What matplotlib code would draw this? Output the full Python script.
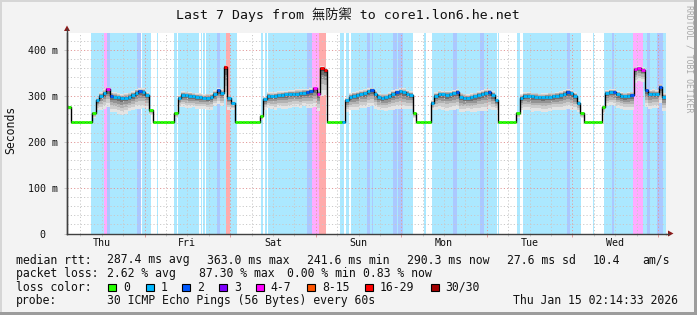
import numpy as np
import matplotlib
matplotlib.use("Agg")
import matplotlib.pyplot as plt
from matplotlib.colors import to_rgb
from matplotlib.patches import Rectangle, Polygon
from matplotlib.transforms import blended_transform_factory

W, H = 697, 315
MONO = "DejaVu Sans Mono"

# ---------------------------------------------------------------- data ---
# hourly samples, Thu Jan 08 02:14 -> Thu Jan 15 02:14 (168 h)
median_ms = [
    276, 242, 242, 242, 242, 242, 242, 262, 290, 300, 306, 314,
    300, 298, 297, 296, 296, 298, 302, 307, 310, 309, 302, 268,
    242, 242, 242, 242, 242, 242, 262, 295, 302, 301, 300, 299,
    298, 297, 296, 296, 298, 304, 312, 306, 363, 296, 285, 242,
    242, 242, 242, 242, 242, 242, 255, 292, 300, 299, 300, 301,
    302, 303, 304, 304, 305, 306, 307, 308, 310, 316, 304, 360,
    356, 242, 242, 242, 242, 244, 290, 298, 300, 302, 304, 306,
    310, 313, 304, 298, 296, 297, 300, 304, 308, 310, 308, 305,
    302, 262, 242, 242, 242, 242, 285, 300, 303, 303, 302, 303,
    306, 309, 298, 296, 296, 297, 299, 302, 305, 307, 309, 302,
    290, 242, 242, 242, 242, 242, 262, 296, 300, 300, 299, 298,
    297, 297, 298, 298, 299, 300, 302, 305, 309, 306, 300, 285,
    262, 242, 242, 242, 242, 242, 275, 306, 309, 309, 303, 300,
    299, 300, 302, 358, 360, 357, 312, 305, 305, 304, 320, 298,
]
# loss class index: 0, 1, 2, 3, 4-7, 8-15, 16-29, 30/30
loss_idx = [
    0, 0, 0, 0, 0, 0, 0, 0, 1, 1, 1, 4,
    2, 1, 1, 1, 1, 1, 1, 1, 2, 1, 1, 0,
    0, 0, 0, 0, 0, 0, 0, 1, 1, 1, 1, 1,
    1, 1, 1, 1, 1, 1, 2, 1, 6, 1, 1, 0,
    0, 0, 0, 0, 0, 0, 0, 1, 1, 1, 1, 1,
    1, 1, 1, 1, 1, 1, 1, 2, 2, 4, 4, 6,
    6, 0, 0, 0, 0, 1, 1, 1, 1, 1, 1, 1,
    1, 2, 1, 1, 1, 1, 1, 1, 2, 1, 1, 1,
    1, 0, 0, 0, 0, 0, 1, 1, 1, 1, 1, 1,
    1, 2, 1, 1, 1, 1, 1, 1, 1, 1, 2, 1,
    1, 0, 0, 0, 0, 0, 0, 1, 1, 1, 1, 1,
    1, 1, 1, 1, 1, 1, 1, 1, 2, 1, 1, 1,
    0, 0, 0, 0, 0, 0, 0, 1, 1, 2, 1, 1,
    1, 1, 2, 4, 4, 4, 2, 1, 1, 1, 2, 1,
]
# smoke extent below / above the median (ms)
smoke_dn = [
    6, 2, 2, 2, 2, 2, 2, 10, 22, 30, 34, 38,
    36, 34, 36, 38, 35, 32, 34, 36, 38, 36, 30, 10,
    2, 2, 2, 2, 2, 2, 10, 20, 26, 28, 26, 24,
    26, 25, 24, 26, 28, 26, 30, 28, 70, 26, 15, 2,
    2, 2, 2, 2, 2, 2, 8, 22, 26, 28, 30, 28,
    30, 32, 30, 28, 30, 32, 30, 34, 36, 40, 38, 60,
    55, 2, 2, 2, 2, 3, 25, 30, 32, 34, 30, 32,
    34, 36, 32, 30, 28, 30, 32, 34, 36, 38, 36, 34,
    30, 10, 2, 2, 2, 2, 15, 30, 32, 34, 36, 34,
    36, 38, 34, 32, 30, 32, 34, 36, 38, 40, 38, 34,
    20, 2, 2, 2, 2, 2, 10, 28, 30, 32, 34, 32,
    30, 32, 34, 32, 30, 32, 34, 36, 38, 36, 32, 20,
    10, 2, 2, 2, 2, 2, 12, 28, 30, 32, 30, 28,
    30, 32, 34, 30, 28, 26, 36, 34, 32, 30, 36, 32,
]
smoke_up = [
    2, 1, 1, 1, 1, 1, 1, 3, 6, 8, 8, 6,
    9, 10, 9, 8, 10, 9, 8, 8, 6, 8, 6, 3,
    1, 1, 1, 1, 1, 1, 3, 6, 8, 8, 9, 8,
    8, 9, 8, 9, 8, 8, 5, 8, 4, 6, 4, 1,
    1, 1, 1, 1, 1, 1, 3, 6, 8, 9, 8, 9,
    8, 8, 9, 8, 9, 8, 8, 7, 6, 4, 8, 4,
    5, 1, 1, 1, 1, 1, 6, 8, 9, 8, 9, 8,
    6, 5, 9, 8, 9, 8, 8, 9, 6, 6, 8, 8,
    8, 3, 1, 1, 1, 1, 5, 8, 9, 8, 9, 8,
    7, 6, 9, 9, 8, 9, 8, 8, 7, 7, 6, 8,
    5, 1, 1, 1, 1, 1, 3, 7, 8, 9, 8, 9,
    8, 9, 8, 9, 8, 9, 8, 8, 6, 7, 8, 5,
    3, 1, 1, 1, 1, 1, 4, 7, 6, 6, 8, 9,
    8, 9, 7, 5, 4, 5, 6, 8, 9, 8, 6, 8,
]
# loss-coloured background bands (hours from start)
band_start = [6.73, 21.04, 25.16, 30.01, 31.0, 37.50, 38.23, 39.07, 54.33,
              55.54, 56.46, 76.58, 78.12, 79.52, 100.14, 102.3, 120.75,
              126.14, 127.83, 147.55, 150.63,
              10.24, 11.14, 19.64, 41.99, 44.60, 67.24, 68.72, 70.69,
              84.24, 85.47, 91.53, 92.93, 108.19, 115.85, 140.17,
              152.79, 158.85, 162.60, 165.41]
band_end = [19.64, 23.56, 25.44, 30.72, 37.11, 37.87, 38.71, 47.60, 54.90,
            56.18, 67.24, 77.70, 79.19, 97.05, 100.70, 120.70, 121.2,
            127.07, 144.18, 147.83, 168.0,
            11.14, 12.06, 20.76, 42.92, 45.72, 68.72, 70.69, 72.65,
            85.00, 85.92, 92.48, 94.33, 109.31, 116.97, 141.09,
            153.52, 161.65, 163.53, 167.26]
band_loss = [1] * 21 + [4, 2, 2, 2, 6, 2, 4, 6,
                        2, 2, 2, 2, 2, 2, 2,
                        2, 4, 2, 2]

loss_labels = ["0", "1", "2", "3", "4-7", "8-15", "16-29", "30/30"]
loss_colors = ["#26ff00", "#00b8ff", "#0059ff", "#7e00ff",
               "#ff00ff", "#ff5500", "#ff0000", "#a10000"]

day_names = ["Thu", "Fri", "Sat", "Sun", "Mon", "Tue", "Wed"]
first_midnight = 21.7575   # Fri 00:00, hours after start

y_ticks = [0, 100, 200, 300, 400]
y_ticklabels = ["0  ", "100 m", "200 m", "300 m", "400 m"]

title = "Last 7 Days from 無防禦 to core1.lon6.he.net"
stats_rows = [
    ("median rtt:", [(107, "287.4 ms avg"), (207, "363.0 ms max"),
                     (307, "241.6 ms min"), (407, "290.3 ms now"),
                     (507, "27.6 ms sd"), (593, "10.4"), (642, "am/s")]),
    ("packet loss:", [(107, "2.62 % avg"), (199, "87.30 % max"),
                      (287, "0.00 % min"), (363, "0.83 % now")]),
]
probe_text = "30 ICMP Echo Pings (56 Bytes) every 60s"
stamp_text = "Thu Jan 15 02:14:33 2026"


# ---------------------------------------------------------------- plot ---
def fx(x):
    return x / W


def fy(y):
    return 1 - y / H


def light(c, a=0.33):
    r, g, b = to_rgb(c)
    return (1 - a + a * r, 1 - a + a * g, 1 - a + a * b)


fig = plt.figure(figsize=(W / 100, H / 100), dpi=100, facecolor="#f3f3f3")
ax = fig.add_axes([fx(67), fy(233.5), 599 / W, 201 / H])
ax.set_facecolor("white")
n = len(median_ms)
ax.set_xlim(0, n)
ax.set_ylim(0, 201 / 0.459)

for s, e, c in zip(band_start, band_end, band_loss):
    ax.axvspan(s, e, color=light(loss_colors[c]), lw=0, zorder=0)

t = np.arange(n + 1)
med = np.array(median_ms + [median_ms[-1]], dtype=float)
dn = np.array(smoke_dn + [smoke_dn[-1]], dtype=float)
up = np.array(smoke_up + [smoke_up[-1]], dtype=float)
for frac, col in zip([1.0, 0.78, 0.58, 0.40, 0.24, 0.11],
                     ["#e4e4e4", "#cdcdcd", "#b2b2b2", "#939393", "#6e6e6e", "#454545"]):
    ax.fill_between(t, med - frac * dn, med + frac * up, step="post",
                    color=col, lw=0, zorder=1)

# grid
dots = (0, (1.2, 2.2))
for v in range(20, 440, 20):
    major = v % 100 == 0
    ax.axhline(v, color="#e29a9a" if major else "#c9c9c9", lw=0.7,
               ls=dots, zorder=2)
midnights = first_midnight + 24 * np.arange(7)
six_h = (first_midnight % 6) + 6 * np.arange(28)
for v in six_h:
    major = np.isclose(midnights, v).any()
    ax.axvline(v, color="#e29a9a" if major else "#c9c9c9", lw=0.7,
               ls=dots, zorder=2)

# median line, coloured by loss
ax.step(t, med, where="post", color="black", lw=1.0, zorder=4)
ax.hlines(median_ms, t[:-1], t[1:], colors=[loss_colors[l] for l in loss_idx],
          lw=2.0, zorder=5)

# axes, ticks
for s in ("top", "right"):
    ax.spines[s].set_visible(False)
for s in ("left", "bottom"):
    ax.spines[s].set_color("#404040")
    ax.spines[s].set_linewidth(1.0)
    ax.spines[s].set_zorder(6)
ax.set_yticks(y_ticks, y_ticklabels, fontfamily=MONO, fontsize=7.2, color="#111111")
ax.tick_params(axis="y", length=2, width=0.7, color="#c9c9c9", pad=4.5)
ax.set_xticks(midnights, [""] * len(midnights))
ax.set_xticks(six_h, minor=True)
ax.tick_params(axis="x", which="major", length=2.5, width=0.7, color="#e29a9a")
ax.tick_params(axis="x", which="minor", length=1.5, width=0.7, color="#c9c9c9")
day_tr = blended_transform_factory(ax.transData, fig.transFigure)
for i, name in enumerate(day_names):
    ax.text(first_midnight - 12 + 24 * i, fy(246), name, transform=day_tr,
            ha="center", va="baseline", fontfamily=MONO, fontsize=7.2, color="#111111")

# axis arrows
inch = fig.dpi_scale_trans
arrow_col = "#8b1a1a"
fig.add_artist(plt.Line2D([67 / 100, 67 / 100], [(H - 233.5) / 100, (H - 29) / 100],
                          transform=inch, color="#404040", lw=1.0))
fig.add_artist(Polygon([[64 / 100, (H - 31) / 100], [70 / 100, (H - 31) / 100],
                        [67 / 100, (H - 25.5) / 100]], closed=True, transform=inch,
                       color=arrow_col, lw=0))
fig.add_artist(plt.Line2D([666 / 100, 669 / 100], [(H - 233.5) / 100] * 2,
                          transform=inch, color="#404040", lw=1.0))
fig.add_artist(Polygon([[668 / 100, (H - 230.5) / 100], [668 / 100, (H - 236.5) / 100],
                        [673.5 / 100, (H - 233.5) / 100]], closed=True, transform=inch,
                       color=arrow_col, lw=0))

# texts
fig.text(fx(347.5), fy(19), title, ha="center", va="baseline",
         fontfamily=[MONO, "Noto Sans CJK TC"], fontsize=9.5, color="#111111")
fig.text(fx(11), fy(130), "Seconds", rotation=90, ha="center", va="center",
         fontfamily=MONO, fontsize=8.3, color="#111111")
fig.text(fx(688.5), fy(5), "RRDTOOL / TOBI OETIKER", rotation=270, ha="center",
         va="top", fontfamily=MONO, fontsize=5.9, color="#a8a8a8")

base = [263.5, 277.0, 290.7, 304.3]
for (head, items), yb in zip(stats_rows, base[:2]):
    fig.text(fx(16), fy(yb), head, va="baseline", fontfamily=MONO,
             fontsize=8.3, color="#111111")
    for xp, txt in items:
        fig.text(fx(xp), fy(yb), txt, va="baseline", fontfamily=MONO,
                 fontsize=8.3, color="#111111")

fig.text(fx(16), fy(base[2]), "loss color:", va="baseline", fontfamily=MONO,
         fontsize=8.3, color="#111111")
box_x = [108, 145.7, 182.3, 219, 255.7, 307.3, 365, 430.7]
for bx, lab, col in zip(box_x, loss_labels, loss_colors):
    fig.add_artist(Rectangle((bx / 100, (H - 291) / 100), 8 / 100, 7 / 100,
                             transform=inch, facecolor=col, edgecolor="black", lw=0.8))
    fig.text(fx(bx + 15), fy(base[2]), lab, va="baseline", fontfamily=MONO,
             fontsize=8.3, color="#111111")

fig.text(fx(16), fy(base[3]), "probe:", va="baseline", fontfamily=MONO,
         fontsize=8.3, color="#111111")
fig.text(fx(107), fy(base[3]), probe_text, va="baseline", fontfamily=MONO,
         fontsize=8.3, color="#111111")
fig.text(fx(513.3), fy(base[3]), stamp_text, va="baseline", fontfamily=MONO,
         fontsize=8.3, color="#111111")

# 3d-ish frame
fig.add_artist(Rectangle((0, (H - 2) / 100), W / 100, 2 / 100, transform=inch,
                         color="#d6d6d6", lw=0))
fig.add_artist(Rectangle((0, 0), 2 / 100, H / 100, transform=inch,
                         color="#d6d6d6", lw=0))
fig.add_artist(Rectangle((0, 0), W / 100, 3 / 100, transform=inch,
                         color="#9c9c9c", lw=0))
fig.add_artist(Rectangle(((W - 3) / 100, 0), 3 / 100, H / 100, transform=inch,
                         color="#9c9c9c", lw=0))

fig.savefig("out.png", dpi=100, facecolor=fig.get_facecolor())
